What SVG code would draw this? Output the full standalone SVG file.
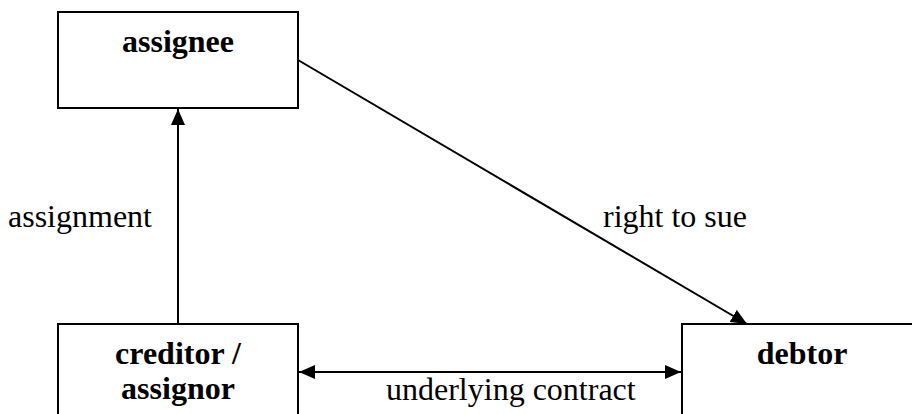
<svg xmlns="http://www.w3.org/2000/svg" width="912" height="414" viewBox="0 0 912 414">
<style>
.box{fill:#fff;stroke:#000;stroke-width:2}
.lbl{font-family:"Liberation Serif","Times New Roman",serif;font-size:32px;fill:#000}
.b{font-weight:bold}
.ln{stroke:#000;stroke-width:2;fill:none}
</style>
<defs>
<marker id="ah" markerUnits="userSpaceOnUse" markerWidth="16" markerHeight="14" refX="16" refY="7" orient="auto-start-reverse">
<path d="M0,0 L16,7 L0,14 Z" fill="#000"/>
</marker>
</defs>
<rect width="912" height="414" fill="#fff"/>
<g id="connectors">
<line class="ln" x1="178" y1="324" x2="178" y2="109" marker-end="url(#ah)"/>
<line class="ln" x1="298" y1="60" x2="747" y2="324" marker-end="url(#ah)"/>
<line class="ln" x1="299" y1="372" x2="681" y2="372" marker-start="url(#ah)" marker-end="url(#ah)"/>
<text class="lbl" x="8" y="227">assignment</text>
<text class="lbl" x="603" y="227">right to sue</text>
<text class="lbl" x="386" y="400">underlying contract</text>
</g>
<g id="assignee">
<rect class="box" x="58" y="12" width="240" height="96"/>
<text class="lbl b" x="178" y="52" text-anchor="middle">assignee</text>
</g>
<g id="creditor">
<rect class="box" x="58" y="324" width="240" height="100"/>
<text class="lbl b" x="178" y="364" text-anchor="middle">creditor /</text>
<text class="lbl b" x="178" y="399" text-anchor="middle">assignor</text>
</g>
<g id="debtor">
<rect class="box" x="682" y="324" width="240" height="100"/>
<text class="lbl b" x="802" y="364" text-anchor="middle">debtor</text>
</g>
</svg>
